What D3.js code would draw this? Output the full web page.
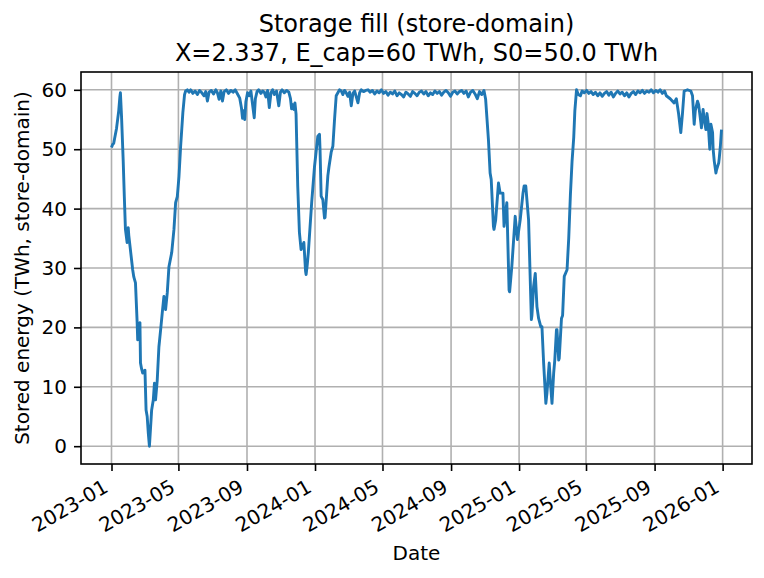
<!DOCTYPE html>
<meta charset="utf-8">
<style>
    body { margin: 0; background: #fff; }
    text { font-family: "DejaVu Sans", sans-serif; fill: #000; }
    .grid line { stroke: #b0b0b0; stroke-width: 1.6px; }
    .axis line { stroke: #000; stroke-width: 1.6px; }
    .fill-line { fill: none; stroke: #1f77b4; stroke-width: 2.9px; stroke-linejoin: round; }
</style>
<svg width="764" height="578"></svg>
<script src="https://cdnjs.cloudflare.com/ajax/libs/d3/7.8.5/d3.min.js"></script>
<script>

    // days since 2023-01-01 and stored energy (TWh)
    var startDate = "2023-01-01";
    var lastDay = 1094;

    var days = [
        0, 2, 4, 6, 9, 13, 15, 16, 18, 21, 23, 25, 28, 30, 31, 34, 38, 40, 43, 46,
        47, 49, 51, 52, 54, 56, 60, 62, 64, 66, 68, 69, 72, 75, 77, 79, 82, 85, 88, 91,
        94, 95, 97, 100, 103, 108, 112, 115, 118, 121, 124, 128, 131, 133,
        136, 139, 142, 146, 150, 154, 158, 162, 166, 169, 172, 175, 179, 183, 187, 190,
        193, 196, 199, 202, 206, 210, 214, 218, 222, 226, 230, 233, 235, 237, 239, 241,
        244, 247, 250, 253, 256, 258, 261, 264, 268, 271, 274, 277, 280, 283, 286, 289,
        292, 296, 300, 303, 306, 310, 314, 318, 321, 323, 325, 327, 329,
        331, 334, 337, 340, 345, 348, 349, 351, 353, 359, 364, 370, 373, 374, 376, 379,
        382, 383, 388, 390, 394, 397, 400, 403, 409,
        412, 415, 418, 421, 424, 427, 430, 433, 436, 439, 442, 445, 448, 452, 456, 460,
        464, 468, 472, 476, 480, 484, 488, 492, 496, 500, 504, 508, 512, 516, 520, 524,
        528, 532, 536, 540, 544, 548, 552, 556, 560, 564, 568, 572, 576, 580, 584, 588,
        592, 596, 600, 604, 608, 612, 616, 620, 624, 628, 632, 636, 640, 644, 648, 652,
        656, 660, 664, 668, 671,
        676, 679, 681, 685, 686, 689, 694, 697, 702, 704, 709, 713, 714, 718, 724, 728,
        733, 738, 740, 743, 748, 753, 754, 757, 760, 763, 766, 770, 772, 775, 779, 781,
        785, 787, 790, 793, 795, 798, 799, 802, 803, 807, 809, 812, 817, 820, 823, 826,
        829, 831, 834, 837, 841, 844,
        848, 852, 856, 860, 864, 868, 872, 876, 880, 884, 888, 892, 896, 900, 904, 908,
        912, 916, 920, 924, 928, 932, 936, 940, 944, 948, 952, 956, 960, 964, 968, 972,
        976, 980, 984, 988, 992, 995, 1002, 1009, 1013, 1017, 1021, 1024, 1027, 1033,
        1039, 1042, 1045, 1047, 1051, 1053, 1057, 1058, 1061, 1063, 1066, 1068, 1070, 1073,
        1075, 1078, 1079, 1081, 1084, 1085, 1089, 1090, 1092, 1094
    ];

    var stored = [
        50.3, 50.8, 51.0, 52.0, 53.5, 56.5, 58.8, 59.5, 55.5, 48.0, 42.0, 36.5, 34.3, 36.8, 35.5, 33.0, 29.7, 28.5, 27.5, 20.8,
        17.9, 18.5, 20.8, 14.0, 13.0, 12.3, 12.8, 6.1, 5.0, 2.2, 0.0, 1.5, 6.1, 7.8, 10.6, 7.8, 11.1, 16.7, 19.5, 22.4,
        25.2, 24.5, 23.0, 25.8, 30.2, 32.6, 36.5, 41.0, 42.0, 45.4, 50.5, 56.2, 59.2, 59.8,
        60.0, 59.6, 60.0, 59.4, 59.8, 59.2, 59.9, 59.5, 59.0, 59.7, 58.1, 59.6, 59.9, 59.3, 60.0, 59.5,
        58.4, 59.8, 58.1, 59.7, 60.0, 59.4, 59.9, 59.6, 60.0, 59.3, 58.6, 57.0, 55.2, 56.5, 55.0, 58.0,
        59.5, 59.0, 59.8, 57.5, 55.3, 58.5, 59.7, 60.0, 59.4, 59.8, 59.6, 58.8, 59.9, 57.0, 59.5, 60.0,
        59.2, 59.8, 57.3, 59.6, 60.0, 59.5, 59.9, 59.6, 58.5, 56.8, 57.5, 56.7, 57.8,
        55.9, 43.8, 36.0, 33.1, 34.3, 29.5, 28.9, 30.5, 32.6, 41.0, 47.0, 52.2, 52.5, 50.0, 42.1, 41.5,
        38.4, 38.5, 45.5, 47.0, 49.5, 50.5, 55.0, 59.0, 60.0,
        59.8, 59.2, 59.9, 59.5, 58.9, 59.6, 57.3, 59.4, 59.8, 58.8, 57.8, 59.5, 60.0, 59.7, 59.9, 60.0,
        59.6, 59.9, 59.3, 59.8, 59.5, 60.0, 59.4, 59.7, 59.1, 59.6, 59.3, 59.8, 59.0, 59.5, 59.2, 58.8,
        59.6, 59.3, 58.9, 59.7, 59.4, 59.0, 59.6, 59.8, 59.3, 59.7, 59.0, 59.5, 59.2, 59.8, 59.4, 59.7,
        59.1, 59.6, 59.9, 59.5, 58.9, 59.6, 59.8, 59.3, 59.7, 59.9, 59.4, 59.8, 58.8, 59.6, 59.9, 59.3,
        58.5, 59.7, 59.2, 59.9, 58.4,
        51.6, 46.0, 44.9, 37.0, 36.5, 38.1, 44.3, 42.6, 42.6, 37.0, 41.0, 26.3, 26.0, 30.3, 38.7, 34.8,
        38.1, 42.6, 43.8, 43.8, 38.1, 21.3, 22.0, 26.9, 29.1, 23.5, 21.5, 20.1, 20.1, 14.0, 7.2, 9.0,
        14.0, 11.0, 7.2, 12.3, 14.5, 19.6, 19.6, 14.5, 14.8, 21.5, 22.0, 28.6, 29.7, 35.0, 42.3, 48.0,
        52.0, 56.5, 60.0, 59.2, 59.0, 59.8,
        59.5, 59.9, 59.4, 59.7, 59.2, 59.6, 59.0, 59.5, 58.9, 59.4, 59.7, 59.1, 59.6, 58.8, 59.4, 59.8,
        59.3, 59.6, 59.0, 59.5, 58.8, 59.4, 59.7, 59.2, 59.8, 59.5, 59.9, 59.4, 59.8, 59.6, 60.0, 59.5,
        59.9, 59.6, 60.0, 59.4, 59.8, 59.0, 58.5, 57.8, 58.5, 56.0, 52.8, 56.0, 59.8, 60.0,
        59.8, 59.0, 54.2, 56.5, 58.1, 57.5, 54.5, 53.6, 56.7, 55.0, 53.3, 56.0, 54.5, 50.0,
        54.2, 52.8, 50.0, 48.0, 46.0, 46.5, 47.7, 48.5, 50.5, 53.3
    ];

    var yTicks = [0, 10, 20, 30, 40, 50, 60];
    var xTickLabels = ["2023-01", "2023-05", "2023-09", "2024-01", "2024-05", "2024-09",
        "2025-01", "2025-05", "2025-09", "2026-01"];

    var titleLines = ["Storage fill (store-domain)", "X=2.337, E_cap=60 TWh, S0=50.0 TWh"];
    var xLabel = "Date";
    var yLabel = "Stored energy (TWh, store-domain)";

    var svg = d3.select("svg"),
        margin = {top: 72, right: 12, bottom: 114, left: 81},
        width = +svg.attr("width") - margin.left - margin.right,
        height = +svg.attr("height") - margin.top - margin.bottom;

    var parse = d3.utcParse("%Y-%m-%d"),
        parseMonth = d3.utcParse("%Y-%m"),
        t0 = parse(startDate);

    var data = days.map(function (d, i) {
        return {date: d3.utcDay.offset(t0, d), value: stored[i]};
    });

    // matplotlib-style 5% padding on both axes
    var tEnd = d3.utcDay.offset(t0, lastDay);
    var padT = (tEnd - t0) * 0.05;
    var x = d3.scaleUtc()
        .domain([new Date(+t0 - padT), new Date(+tEnd + padT)])
        .range([0, width]);

    var yMin = d3.min(stored), yMax = d3.max(stored), padY = (yMax - yMin) * 0.05;
    var y = d3.scaleLinear()
        .domain([yMin - padY, yMax + padY])
        .range([height, 0]);

    var xTicks = xTickLabels.map(function (s) { return parseMonth(s); });

    var g = svg.append("g")
        .attr("transform", "translate(" + margin.left + "," + margin.top + ")");

    // grid
    var grid = g.append("g").attr("class", "grid");
    grid.selectAll(".gx")
        .data(xTicks)
        .enter().append("line")
        .attr("x1", function (d) { return x(d); })
        .attr("x2", function (d) { return x(d); })
        .attr("y1", 0)
        .attr("y2", height);
    grid.selectAll(".gy")
        .data(yTicks)
        .enter().append("line")
        .attr("x1", 0)
        .attr("x2", width)
        .attr("y1", function (d) { return y(d); })
        .attr("y2", function (d) { return y(d); });

    // the series
    var line = d3.line()
        .x(function (d) { return x(d.date); })
        .y(function (d) { return y(d.value); });

    g.append("path")
        .datum(data)
        .attr("class", "fill-line")
        .attr("d", line);

    // axes
    var xAxis = g.append("g")
        .attr("class", "axis")
        .attr("transform", "translate(0," + height + ")")
        .call(d3.axisBottom(x).tickValues(xTicks).tickSize(7).tickPadding(7)
            .tickFormat(d3.utcFormat("%Y-%m")));

    xAxis.select(".domain").remove();
    xAxis.selectAll("text")
        .style("font-size", "20px")
        .attr("text-anchor", "end")
        .attr("dy", null)
        .attr("y", null)
        .attr("transform", "translate(-2.4,27) rotate(-30)");

    var yAxis = g.append("g")
        .attr("class", "axis")
        .call(d3.axisLeft(y).tickValues(yTicks).tickSize(7).tickPadding(7));
    yAxis.select(".domain").remove();
    yAxis.selectAll("text").style("font-size", "20px");

    // frame
    g.append("rect")
        .attr("width", width)
        .attr("height", height)
        .attr("fill", "none")
        .attr("stroke", "#000")
        .attr("stroke-width", 1.6);

    // labels
    svg.append("text")
        .attr("x", margin.left + width / 2)
        .attr("y", 560)
        .attr("text-anchor", "middle")
        .style("font-size", "20px")
        .text(xLabel);

    svg.append("text")
        .attr("transform", "translate(29," + (margin.top + height / 2) + ") rotate(-90)")
        .attr("text-anchor", "middle")
        .style("font-size", "20px")
        .text(yLabel);

    svg.selectAll(".title")
        .data(titleLines)
        .enter().append("text")
        .attr("class", "title")
        .attr("x", margin.left + width / 2)
        .attr("y", function (d, i) { return 32 + i * 29; })
        .attr("text-anchor", "middle")
        .style("font-size", "24px")
        .text(function (d) { return d; });

</script>
